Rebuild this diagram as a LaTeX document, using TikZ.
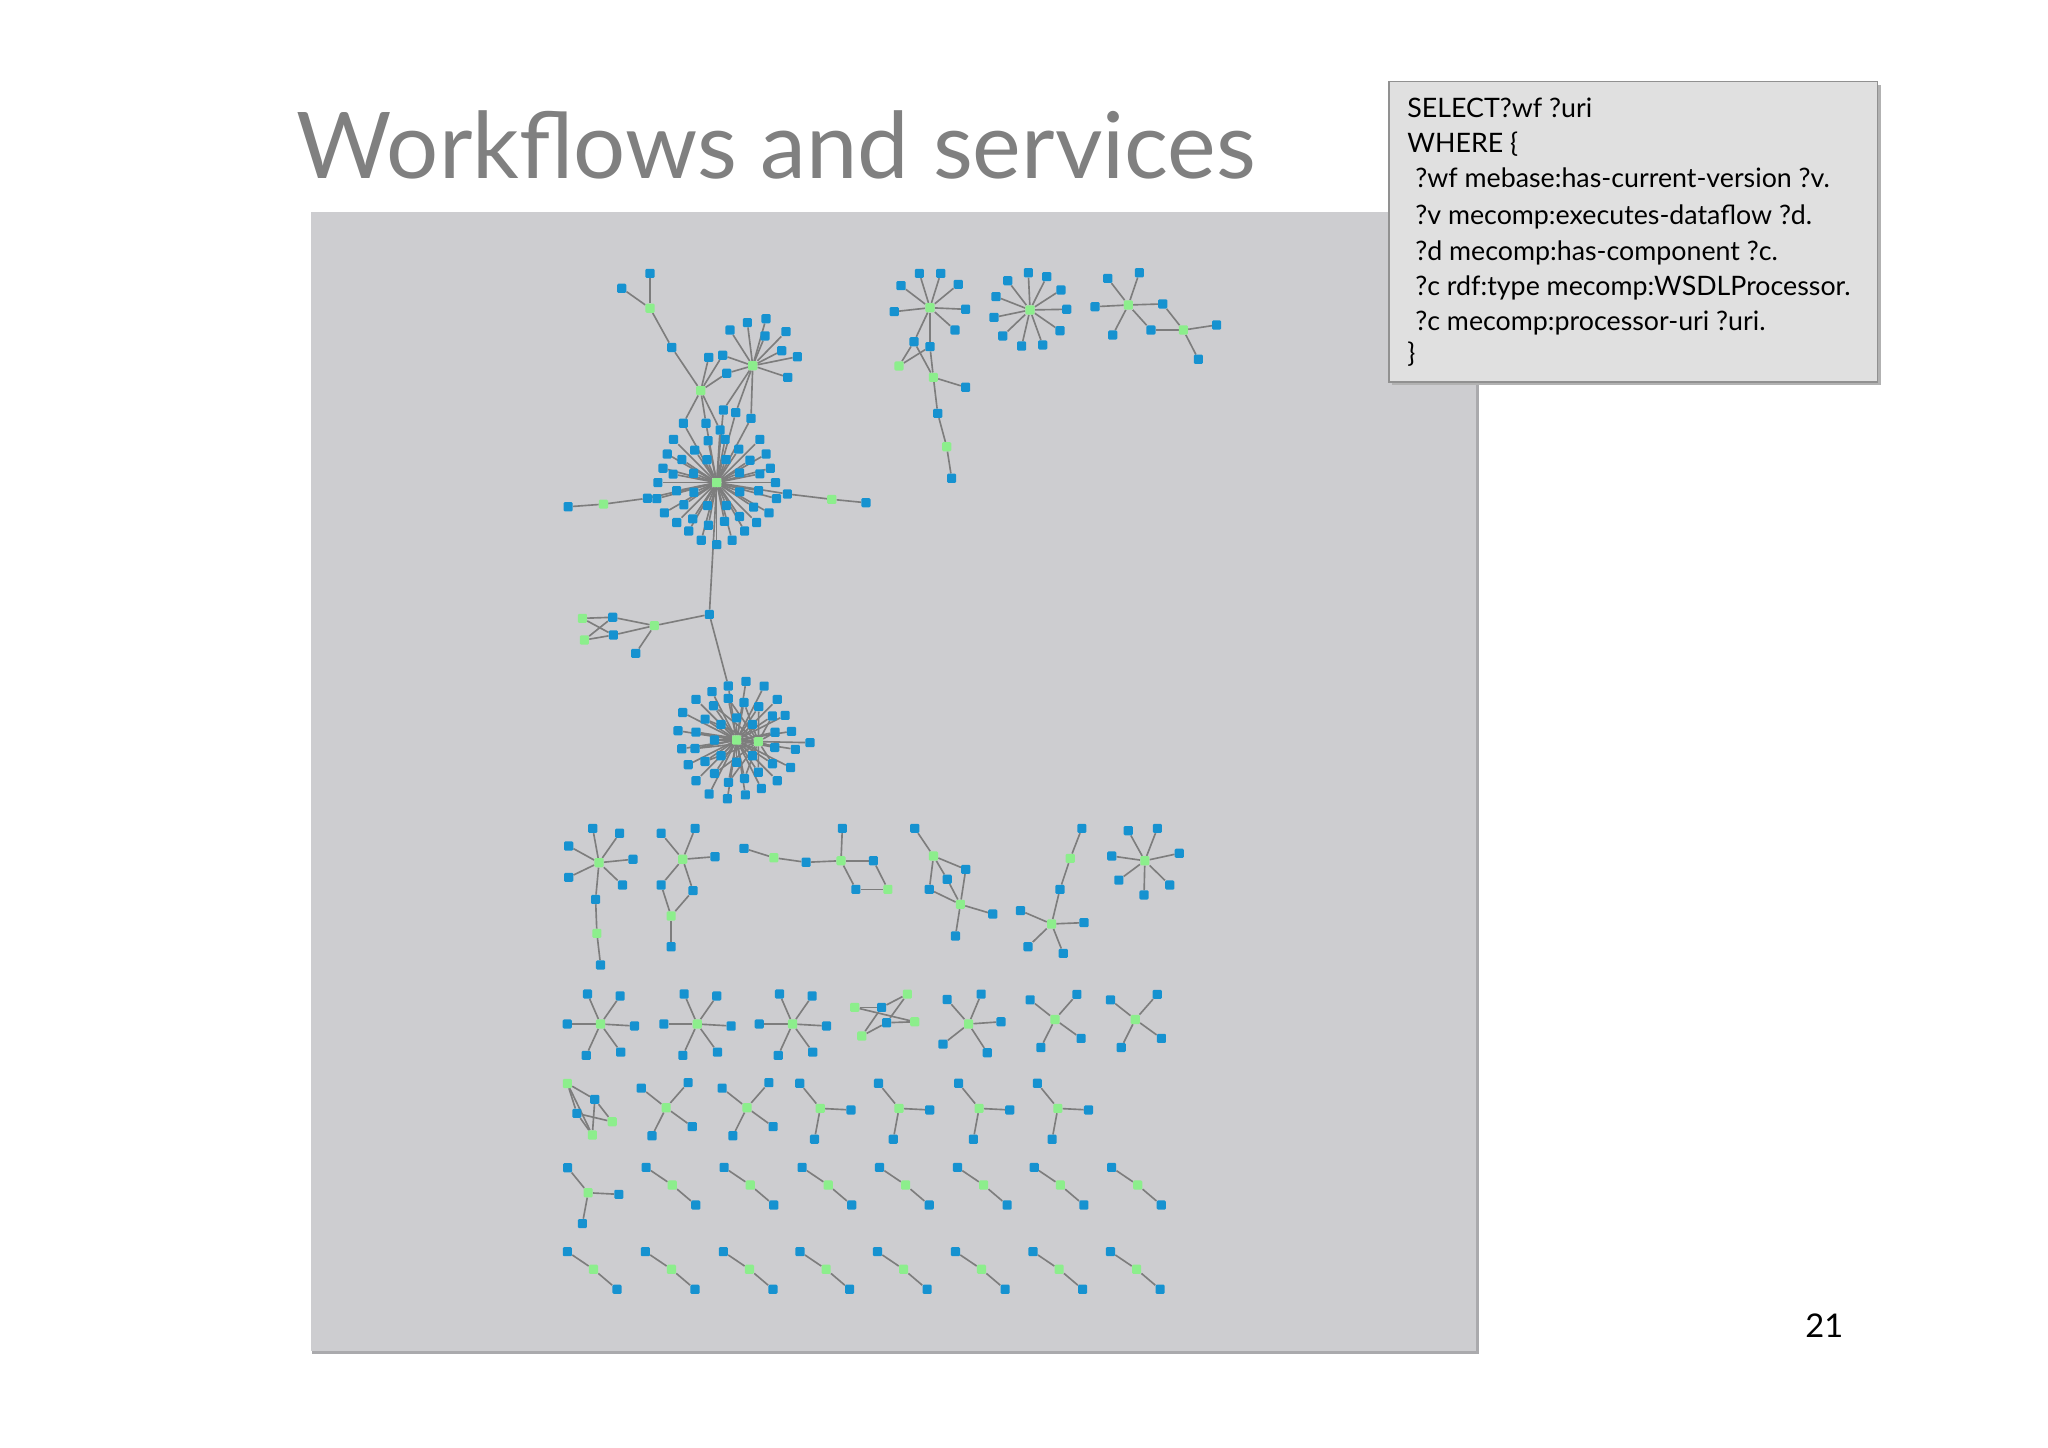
\documentclass[tikz,border=0pt]{standalone}
\usepackage{fontspec}
\setmainfont{Lato}
\usetikzlibrary{calc,backgrounds}
\definecolor{nodeblue}{RGB}{22,146,208}
\definecolor{nodegreen}{RGB}{140,238,140}
\definecolor{edgegrey}{RGB}{125,125,125}
\definecolor{panelgrey}{RGB}{205,205,208}
\definecolor{panelshadow}{RGB}{170,170,173}
\definecolor{boxgrey}{RGB}{224,224,224}
\definecolor{boxline}{RGB}{145,145,145}
\definecolor{titlegrey}{RGB}{128,128,128}
\pgfdeclarelayer{edgelayer}
\pgfsetlayers{background,edgelayer,main}

\begin{document}
\begin{tikzpicture}[x=1pt,y=-1pt,
  bnode/.style={rectangle,fill=nodeblue,inner sep=0pt,minimum size=7pt,rounded corners=0.9pt},
  gnode/.style={bnode,fill=nodegreen},
  edge/.style={draw=edgegrey,line width=1.25pt},
  qline/.style={anchor=base west,inner sep=0pt,font=\fontsize{20.5}{26.8}\selectfont,text=black}
]
\useasboundingbox (0,0) rectangle (1568,1108);

% Title and page number
\node[anchor=base west,inner sep=0pt,text=titlegrey,font=\fontsize{70.5}{80}\selectfont]
  (title) at (227,137) {Workflows and services};
\node[anchor=base west,inner sep=0pt,font=\fontsize{25}{30}\selectfont]
  (pagenum) at (1382,1024) {21};

% Graph panel
\begin{scope}[on background layer]
  \fill[white] (0,0) rectangle (1568,1108);
  \fill[panelshadow] (239,164) rectangle (1132,1037);
  \fill[panelgrey] (238,162) rectangle (1130,1034);
\end{scope}

% --- Query box ---
\fill[black!30] (1066,65) rectangle (1440,295);
\node[draw=boxline,fill=boxgrey,line width=1pt,minimum width=374pt,minimum height=230pt,
  inner sep=0pt,anchor=north west] (query) at (1063,62) {};
\node[qline] (q1) at (1077.3,90.3) {SELECT?wf ?uri};
\node[qline] (q2) at (1077.3,116.4) {WHERE \{};
\node[qline] (q3) at (1083.4,143.9) {?wf mebase:has-current-version ?v.};
\node[qline] (q4) at (1083.4,171.5) {?v mecomp:executes-dataflow ?d.};
\node[qline] (q5) at (1083.4,199.1) {?d mecomp:has-component ?c.};
\node[qline] (q6) at (1083.4,225.9) {?c rdf:type mecomp:WSDLProcessor.};
\node[qline] (q7) at (1083.4,252.7) {?c mecomp:processor-uri ?uri.};
\node[qline] (q8) at (1077.3,277.9) {\}};

% --- Big connected component: top part ---
\node[bnode] (t1) at (497.7,209.3) {};
\node[bnode] (t2) at (476.0,220.7) {};
\node[gnode] (tg) at (497.7,236.0) {};
\node[bnode] (t3) at (514.3,266.0) {};
\node[gnode] (ga) at (536.5,299.1) {};
\foreach \x/\y [count=\i] in {542.6/273.6,553.3/272.0,556.4/285.8}
  \node[bnode] (a\i) at (\x,\y) {};
\node[gnode] (hb) at (576.3,280.0) {};
\foreach \x/\y [count=\i] in {558.9/252.7,572.2/247.0,586.5/244.0,601.8/253.9,
    585.7/257.2,598.5/268.5,610.5/273.1,603.1/288.9}
  \node[bnode] (h\i) at (\x,\y) {};
\foreach \x/\y [count=\i] in {523.2/324.1,540.5/324.1,551.3/329.2,553.8/313.9,563.3/315.9,575.0/320.3}
  \node[bnode] (k\i) at (\x,\y) {};

% first large hub
\node[gnode] (hubA) at (548.7,369.5) {};
\foreach \a [count=\i] in {0,15,30,45,60,75,90,105,120,135,150,165,180,195,210,225,315,330,345}
  \node[bnode] (aO\i) at ($(hubA)+({\a}:{45+2.5*sin(\a*5)})$) {};
\foreach \i in {1,...,16}
  \node[bnode] (aM\i) at ($(hubA)+({\i*22.5+11}:{32+2*sin(\i*100)})$) {};
\foreach \i in {1,...,8}
  \node[bnode] (aI\i) at ($(hubA)+({\i*45+22}:19)$) {};
\node[bnode] (l1) at (495.6,381.5) {};
\node[gnode] (lg) at (462.0,386.0) {};
\node[bnode] (l2) at (435.0,388.0) {};
\node[bnode] (r1) at (602.8,378.2) {};
\node[gnode] (rg) at (636.8,382.3) {};
\node[bnode] (r2) at (663.0,384.9) {};

% junction and side graph
\node[bnode] (jn) at (543.1,470.4) {};
\node[gnode] (jg) at (501.0,479.0) {};
\foreach \x/\y/\s [count=\i] in {445.9/473.4/gnode,469.1/472.6/bnode,469.6/486.2/bnode,
    447.4/490.0/gnode,486.7/500.2/bnode}
  \node[\s] (w\i) at (\x,\y) {};

% second large hub
\node[bnode] (m0) at (557.6,525.2) {};
\node[gnode] (hubB) at (564.0,566.6) {};
\node[gnode] (gB) at (580.6,567.8) {};
\node[bnode] (rb) at (620.2,568.6) {};
\foreach \a [count=\i] in {9,27,45,63,81,99,117,135,153,171,189,207,225,243,279,297,315,333,351}
  \node[bnode] (bO\i) at ($(hubB)+({\a}:{44+2.5*sin(\a*4)})$) {};
\foreach \i in {1,...,16}
  \node[bnode] (bM\i) at ($(hubB)+({\i*22.5+11}:{31+2*sin(\i*110)})$) {};
\foreach \i in {1,...,7}
  \node[bnode] (bI\i) at ($(hubB)+({\i*45}:17)$) {};

% --- Top right components ---
\node[gnode] (qa) at (712.0,235.6) {};
\foreach \x/\y [count=\i] in {703.9/209.3,720.2/209.3,689.8/218.7,733.7/217.7,684.7/238.6,
    739.3/236.8,731.2/252.7}
  \node[bnode] (qa-\i) at (\x,\y) {};
\foreach \x/\y/\s [count=\i] in {699.8/261.6/bnode,712.0/265.4/bnode,688.3/280.2/gnode,
    714.6/288.9/gnode,739.3/296.5/bnode,717.9/316.5/bnode,724.8/342.0/gnode,728.6/366.2/bnode}
  \node[\s] (qt-\i) at (\x,\y) {};
\node[gnode] (qb) at (788.6,237.3) {};
\foreach \x/\y [count=\i] in {787.3/208.8,801.4/211.8,771.5/214.9,812.3/222.0,762.6/227.1,
    816.7/236.8,761.0/243.0,811.6/253.2,767.7/257.2,798.3/264.1,782.2/264.9}
  \node[bnode] (qb-\i) at (\x,\y) {};
\node[gnode] (qc) at (863.9,233.5) {};
\foreach \x/\y [count=\i] in {848.1/213.1,872.3/208.8,838.4/234.8,851.9/256.5}
  \node[bnode] (qc-\i) at (\x,\y) {};
\foreach \x/\y/\s [count=\i] in {890.2/232.7/bnode,881.2/252.7/bnode,906.0/252.7/gnode,
    931.5/248.8/bnode,917.5/275.1/bnode}
  \node[\s] (qd-\i) at (\x,\y) {};

% --- Row 1 of small components ---
\node[gnode] (g1) at (458.6,660.5) {};
\foreach \x/\y [count=\i] in {453.8/634.2,474.4/638.0,435.4/647.7,484.6/657.9,435.4/671.7,
    476.6/677.6,456.0/688.6}
  \node[bnode] (g1-\i) at (\x,\y) {};
\node[gnode] (g1t) at (457.0,714.6) {};
\node[bnode] (g1e) at (459.8,738.8) {};
\node[gnode] (g2) at (522.7,657.9) {};
\foreach \x/\y [count=\i] in {506.2/638.0,532.2/634.2,547.4/655.9,506.2/677.6,530.6/681.9}
  \node[bnode] (g2-\i) at (\x,\y) {};
\node[gnode] (g2t) at (513.8,701.3) {};
\node[bnode] (g2e) at (513.8,724.8) {};
\foreach \x/\y/\s [count=\i] in {569.6/649.5/bnode,592.5/656.7/gnode,617.2/660.2/bnode,
    643.9/659.0/gnode,644.9/634.2/bnode,668.7/659.0/bnode,655.3/680.9/bnode,679.8/680.9/gnode}
  \node[\s] (g3-\i) at (\x,\y) {};
\foreach \x/\y/\s [count=\i] in {700.4/634.2/bnode,714.7/655.4/gnode,739.4/665.6/bnode,
    725.2/673.2/bnode,711.5/680.9/bnode,735.3/692.4/gnode,760.1/699.8/bnode,731.5/716.6/bnode}
  \node[\s] (g4-\i) at (\x,\y) {};
\foreach \x/\y/\s [count=\i] in {828.3/634.2/bnode,819.4/657.2/gnode,811.5/680.9/bnode,
    805.1/707.4/gnode,781.3/697.2/bnode,829.9/706.4/bnode,787.0/724.8/bnode,814.0/729.9/bnode}
  \node[\s] (g5-\i) at (\x,\y) {};
\node[gnode] (g6) at (876.5,659.0) {};
\foreach \x/\y [count=\i] in {863.8/636.0,886.1/634.2,851.2/655.4,902.9/653.3,856.6/673.8,
    895.6/677.6,875.9/685.2}
  \node[bnode] (g6-\i) at (\x,\y) {};

% --- Row 2 ---
\foreach \n/\hx in {1/459.8,2/533.8,3/606.8} {
  \node[gnode] (s\n) at (\hx,784) {};
  \foreach \dx/\dy [count=\i] in {-10/-23,15/-21.5,-25.5/0,26/1.5,-11/24,15.5/21.5}
    \node[bnode] (s\n-\i) at ($(s\n)+(\dx,\dy)$) {};
}
\foreach \x/\y/\s [count=\i] in {694.7/761.1/gnode,675.0/771.3/bnode,654.4/771.3/gnode,
    678.8/783.0/bnode,700.4/782.3/gnode,659.8/793.2/gnode}
  \node[\s] (s4-\i) at (\x,\y) {};
\node[gnode] (s5) at (741.6,784.0) {};
\foreach \x/\y [count=\i] in {725.1/765.2,751.2/761.1,766.4/782.3,722.0/799.4,755.9/806.0}
  \node[bnode] (s5-\i) at (\x,\y) {};

% four-leaf and three-leaf stars (rows 2 to 4)
\foreach \n/\hx/\hy in {1/807.7/780.5,2/869.2/780.5,3/510.0/848.1,4/571.9/848.1} {
  \node[gnode] (x\n) at (\hx,\hy) {};
  \foreach \dx/\dy [count=\i] in {-19/-15,16.8/-19.2,20/14.5,-10.8/21.5}
    \node[bnode] (x\n-\i) at ($(x\n)+(\dx,\dy)$) {};
}
\foreach \n/\hx/\hy in {1/450.3/913.2,2/628.0/848.6,3/688.3/848.6,4/749.6/848.6,5/809.9/848.6} {
  \node[gnode] (y\n) at (\hx,\hy) {};
  \foreach \dx/\dy [count=\i] in {-15.7/-19.2,23.5/1.2,-4.4/23.6}
    \node[bnode] (y\n-\i) at ($(y\n)+(\dx,\dy)$) {};
}

% --- Row 3 odd one ---
\foreach \x/\y/\s [count=\i] in {434.4/829.5/gnode,455.4/841.7/bnode,441.7/852.4/bnode,
    468.7/858.8/gnode,453.5/869.0/gnode}
  \node[\s] (u-\i) at (\x,\y) {};

% --- Rows 4 and 5: three-node chains ---
\foreach \hx [count=\n] in {494.7,554.4,614.1,673.4,733.1,791.8,851.1} {
  \node[bnode] (ca\n) at (\hx,893.8) {};
  \node[gnode] (cb\n) at ($(ca\n)+(20,13.5)$) {};
  \node[bnode] (cc\n) at ($(ca\n)+(38,28.8)$) {};
}
\foreach \hx [count=\n] in {434.4,494.1,553.8,612.5,671.8,731.5,790.9,850.2} {
  \node[bnode] (da\n) at (\hx,958.3) {};
  \node[gnode] (db\n) at ($(da\n)+(20,13.5)$) {};
  \node[bnode] (dc\n) at ($(da\n)+(38,28.8)$) {};
}

% --- Edges ---
\begin{pgfonlayer}{edgelayer}
  \draw[edge] (t1) -- (tg);
  \draw[edge] (t2) -- (tg);
  \draw[edge] (tg) -- (t3);
  \draw[edge] (t3) -- (ga);
  \foreach \i in {1,2,3} \draw[edge] (ga) -- (a\i);
  \foreach \i in {1,2,3} \draw[edge] (ga) -- (k\i);
  \foreach \i in {1,...,8} \draw[edge] (hb) -- (h\i);
  \draw[edge] (hb) -- (a2);
  \draw[edge] (hb) -- (a3);
  \foreach \i in {4,5,6} \draw[edge] (hb) -- (k\i);
  \foreach \i in {1,...,6} \draw[edge] (hubA) -- (k\i);
  \foreach \i in {1,...,19} \draw[edge] (hubA) -- (aO\i);
  \foreach \i in {1,...,16} \draw[edge] (hubA) -- (aM\i);
  \foreach \i in {1,...,8} \draw[edge] (hubA) -- (aI\i);
  \draw[edge] (hubA) -- (l1);
  \draw[edge] (l1) -- (lg);
  \draw[edge] (lg) -- (l2);
  \draw[edge] (hubA) -- (r1);
  \draw[edge] (r1) -- (rg);
  \draw[edge] (rg) -- (r2);
  \draw[edge] (hubA) -- (jn);
  \draw[edge] (jn) -- (jg);
  \foreach \i in {2,3,5} \draw[edge] (jg) -- (w\i);
  \foreach \u/\v in {1/2,1/3,4/2,4/3} \draw[edge] (w\u) -- (w\v);
  \draw[edge] (jn) -- (m0);
  \draw[edge] (m0) -- (hubB);
  \draw[edge] (hubB) -- (gB);
  \draw[edge] (gB) -- (rb);
  \foreach \i in {1,...,19} \draw[edge] (hubB) -- (bO\i);
  \foreach \i in {1,...,16} \draw[edge] (hubB) -- (bM\i);
  \foreach \i in {1,...,16} \draw[edge] (gB) -- (bM\i);
  \foreach \i in {1,...,7} \draw[edge] (hubB) -- (bI\i);
  % top right
  \foreach \i in {1,...,7} \draw[edge] (qa) -- (qa-\i);
  \draw[edge] (qa) -- (qt-1);
  \draw[edge] (qa) -- (qt-2);
  \foreach \u/\v in {1/3,2/3,1/4,2/4,4/5,4/6,6/7,7/8} \draw[edge] (qt-\u) -- (qt-\v);
  \foreach \i in {1,...,11} \draw[edge] (qb) -- (qb-\i);
  \foreach \i in {1,...,4} \draw[edge] (qc) -- (qc-\i);
  \draw[edge] (qc) -- (qd-1);
  \draw[edge] (qc) -- (qd-2);
  \foreach \u/\v in {1/3,2/3,3/4,3/5} \draw[edge] (qd-\u) -- (qd-\v);
  % row 1
  \foreach \i in {1,...,7} \draw[edge] (g1) -- (g1-\i);
  \draw[edge] (g1-7) -- (g1t);
  \draw[edge] (g1t) -- (g1e);
  \foreach \i in {1,...,5} \draw[edge] (g2) -- (g2-\i);
  \draw[edge] (g2-4) -- (g2t);
  \draw[edge] (g2-5) -- (g2t);
  \draw[edge] (g2t) -- (g2e);
  \foreach \u/\v in {1/2,2/3,3/4,4/5,4/6,4/7,7/8,6/8} \draw[edge] (g3-\u) -- (g3-\v);
  \foreach \u/\v in {1/2,2/3,2/4,2/5,5/6,4/6,3/6,6/7,6/8} \draw[edge] (g4-\u) -- (g4-\v);
  \foreach \u/\v in {1/2,2/3,3/4,4/5,4/6,4/7,4/8} \draw[edge] (g5-\u) -- (g5-\v);
  \foreach \i in {1,...,7} \draw[edge] (g6) -- (g6-\i);
  % row 2
  \foreach \n in {1,2,3} \foreach \i in {1,...,6} \draw[edge] (s\n) -- (s\n-\i);
  \foreach \u/\v in {1/2,1/4,3/2,3/5,6/2,6/4,4/5} \draw[edge] (s4-\u) -- (s4-\v);
  \foreach \i in {1,...,5} \draw[edge] (s5) -- (s5-\i);
  \foreach \n in {1,...,4} \foreach \i in {1,...,4} \draw[edge] (x\n) -- (x\n-\i);
  \foreach \n in {1,...,5} \foreach \i in {1,2,3} \draw[edge] (y\n) -- (y\n-\i);
  % row 3
  \foreach \u/\v in {1/2,1/3,1/5,2/4,2/5,3/4,3/5} \draw[edge] (u-\u) -- (u-\v);
  % rows 4 and 5
  \foreach \n in {1,...,7} {\draw[edge] (ca\n) -- (cb\n); \draw[edge] (cb\n) -- (cc\n);}
  \foreach \n in {1,...,8} {\draw[edge] (da\n) -- (db\n); \draw[edge] (db\n) -- (dc\n);}
\end{pgfonlayer}
\end{tikzpicture}
\end{document}
